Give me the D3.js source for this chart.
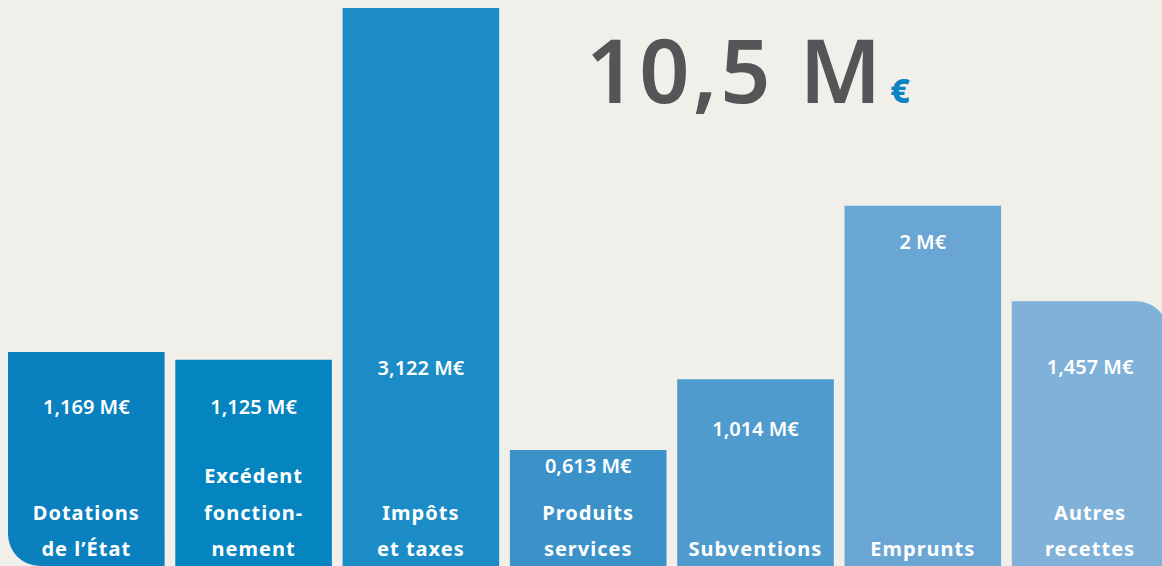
<!DOCTYPE html>
<html>
<head>
<meta charset="utf-8">
<script src="https://cdn.jsdelivr.net/npm/d3@7"></script>
<style>
  html, body { margin: 0; padding: 0; background: #f0efea; overflow: hidden; }
  svg { display: block; font-family: "Noto Sans", "Open Sans", sans-serif; }
</style>
</head>
<body>
<svg id="chart"></svg>
<script>
// recettes (M€)
const categories = ['Dotations', 'Excédent', 'Impôts', 'Produits', 'Subventions', 'Emprunts', 'Autres'];
const values = [1.169, 1.125, 3.122, 0.613, 1.014, 2, 1.457];
const valueLabels = ['1,169 M€', '1,125 M€', '3,122 M€', '0,613 M€', '1,014 M€', '2 M€', '1,457 M€'];
const categoryLines = [
  ['Dotations', 'de l’État'],
  ['Excédent', 'fonction-', 'nement'],
  ['Impôts', 'et taxes'],
  ['Produits', 'services'],
  ['Subventions'],
  ['Emprunts'],
  ['Autres', 'recettes']
];
const totalLabel = '10,5 M';
const colors = ['#0a80be', '#0585c0', '#1b8cc5', '#3a92c9', '#4f9bce', '#69a6d3', '#80b1d9'];
// how far below the bar top the value text sits (px) - layout only
const valueLabelOffset = [62, 54, 367, 23, 57, 43, 73];

const width = 1162, height = 566;

const svg = d3.select('#chart').attr('width', width).attr('height', height);

// scales
const x = d3.scaleBand().domain(categories).range([8, 1168.4]).paddingInner(0.064).paddingOuter(0);
const y = d3.scaleLinear().domain([0, d3.max(values)]).range([558, 8]);

const data = categories.map((c, i) => ({ cat: c, value: values[i], label: valueLabels[i], lines: categoryLines[i], color: colors[i], i: i }));
const last = data.length - 1;

// bar shape, first one gets rounded bottom-left, last one rounded top-right
function barPath(d) {
  const x0 = x(d.cat), x1 = x0 + x.bandwidth(), y0 = y(d.value), y1 = height;
  const p = d3.path();
  if (d.i === 0) {
    const r = 32;
    p.moveTo(x0, y0);
    p.lineTo(x1, y0);
    p.lineTo(x1, y1);
    p.lineTo(x0 + r, y1);
    p.arcTo(x0, y1, x0, y1 - r, r);
    p.closePath();
  } else if (d.i === last) {
    const r = 32;
    p.moveTo(x0, y0);
    p.lineTo(x1 - r, y0);
    p.arcTo(x1, y0, x1, y0 + r, r);
    p.lineTo(x1, y1);
    p.lineTo(x0, y1);
    p.closePath();
  } else {
    p.rect(x0, y0, x1 - x0, y1 - y0);
  }
  return p.toString();
}

svg.append('g').selectAll('path').data(data).join('path')
  .attr('d', barPath)
  .attr('fill', d => d.color);

// category labels, anchored to the bottom
const lineH = 36.5, lastBase = 556;
const catG = svg.append('g').selectAll('text').data(data).join('text')
  .attr('text-anchor', 'middle')
  .attr('fill', '#fff')
  .style('font-size', '20px')
  .style('font-weight', 700)
  .style('letter-spacing', '1px');
catG.selectAll('tspan').data(d => d.lines.map((l, k) => ({ l: l, k: k, n: d.lines.length, cx: x(d.cat) + x.bandwidth() / 2 })))
  .join('tspan')
  .attr('x', t => t.cx)
  .attr('y', t => lastBase - (t.n - 1 - t.k) * lineH)
  .text(t => t.l);

// value labels
svg.append('g').selectAll('text').data(data).join('text')
  .attr('text-anchor', 'middle')
  .attr('fill', '#fff')
  .style('font-size', '20px')
  .style('font-weight', 600)
  .attr('x', d => x(d.cat) + x.bandwidth() / 2)
  .attr('y', d => y(d.value) + valueLabelOffset[d.i])
  .text(d => d.label);

// total
const title = svg.append('text')
  .attr('x', 586)
  .attr('y', 103)
  .attr('fill', '#545556')
  .style('font-size', '88px')
  .style('font-weight', 600)
  .style('letter-spacing', '3px');
title.append('tspan').text(totalLabel);
title.append('tspan')
  .attr('fill', '#0b83c2')
  .attr('dx', 6)
  .style('font-size', '34px')
  .style('font-weight', 800)
  .style('letter-spacing', '0px')
  .text('€');
</script>
</body>
</html>
